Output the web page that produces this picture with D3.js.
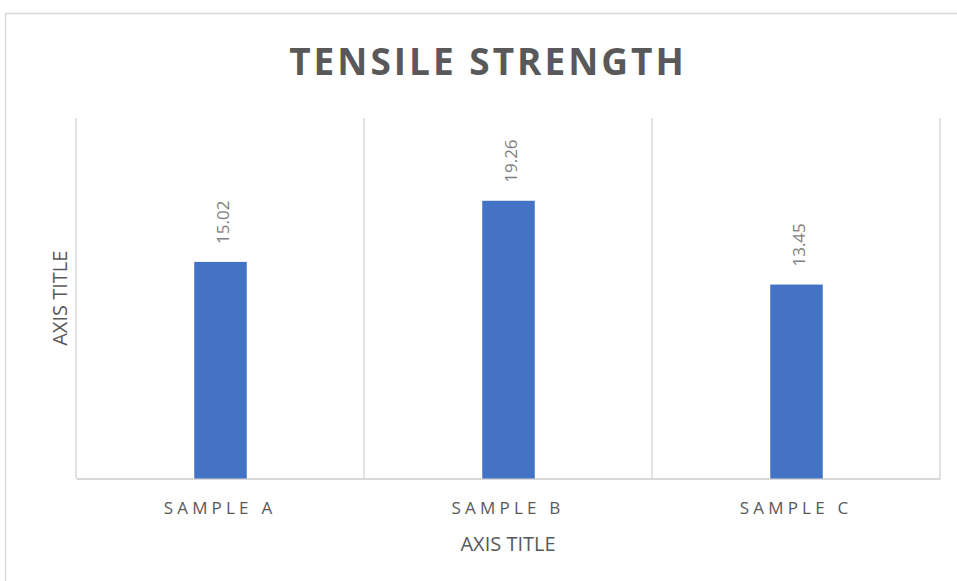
<!DOCTYPE html>
<html>
<head>
<meta charset="utf-8">
<script src="https://cdn.jsdelivr.net/npm/d3@7"></script>
<style>
  html, body { margin: 0; padding: 0; background: #fff; }
  svg { display: block; font-family: "Open Sans", "Noto Sans", sans-serif; }
</style>
</head>
<body>
<svg id="chart" width="957" height="581"></svg>
<script>
// Chart data
const categories = ["SAMPLE A", "SAMPLE B", "SAMPLE C"];
const strength = [15.02, 19.26, 13.45];
const chartTitle = "TENSILE STRENGTH";
const xAxisTitle = "AXIS TITLE";
const yAxisTitle = "AXIS TITLE";

const svg = d3.select("#chart");
const W = 957, H = 581;
const plot = { left: 76, right: 940, top: 118, bottom: 478.5 };

// Outer chart frame
svg.append("rect")
  .attr("x", 5.5).attr("y", 13.5)
  .attr("width", W + 10).attr("height", H + 10)
  .attr("fill", "#fff").attr("stroke", "#d9d9d9").attr("stroke-width", 1.5);

const x = d3.scaleBand()
  .domain(categories)
  .range([plot.left, plot.right])
  .paddingInner(0).paddingOuter(0);

const y = d3.scaleLinear()
  .domain([0, 25])
  .range([plot.bottom, plot.top]);

// Vertical category gridlines
const gridX = categories.map(c => x(c)).concat([x(categories[categories.length - 1]) + x.bandwidth()]);
svg.append("g").selectAll("line")
  .data(gridX)
  .join("line")
  .attr("x1", d => d).attr("x2", d => d)
  .attr("y1", plot.top).attr("y2", plot.bottom)
  .attr("stroke", "#d9d9d9").attr("stroke-width", 1.5);

// Category axis along the baseline
const xAxis = svg.append("g")
  .attr("transform", `translate(0,${plot.bottom})`)
  .call(d3.axisBottom(x).tickSize(0).tickPadding(0));
xAxis.select(".domain").attr("stroke", "#d9d9d9").attr("stroke-width", 2);
xAxis.selectAll(".tick text")
  .attr("dy", null)
  .attr("y", 35)
  .attr("font-family", "Open Sans, sans-serif")
  .attr("font-size", 17)
  .attr("letter-spacing", "4.2px")
  .attr("fill", "#595959");

// Bars
const barW = 52.5;
svg.append("g").selectAll("rect")
  .data(strength)
  .join("rect")
  .attr("x", (d, i) => x(categories[i]) + x.bandwidth() / 2 - barW / 2 + 0.5)
  .attr("y", d => y(d))
  .attr("width", barW)
  .attr("height", d => y(0) - y(d))
  .attr("fill", "#4472c4");

// Rotated value labels above bars
svg.append("g").selectAll("text")
  .data(strength)
  .join("text")
  .attr("transform", (d, i) => `translate(${x(categories[i]) + x.bandwidth() / 2 + 9},${y(d) - 18}) rotate(-90)`)
  .attr("text-anchor", "start")
  .attr("font-size", 17)
  .attr("fill", "#7f7f7f")
  .text(d => d.toFixed(2));

// Chart title
svg.append("text")
  .attr("x", (plot.left + plot.right) / 2 - 20)
  .attr("y", 75)
  .attr("text-anchor", "middle")
  .attr("font-size", 37)
  .attr("font-weight", 700)
  .attr("letter-spacing", "3px")
  .attr("fill", "#595959")
  .text(chartTitle);

// Axis titles
svg.append("text")
  .attr("x", (plot.left + plot.right) / 2)
  .attr("y", 551)
  .attr("text-anchor", "middle")
  .attr("font-size", 20)
  .attr("fill", "#595959")
  .text(xAxisTitle);

svg.append("text")
  .attr("transform", `translate(67,${(plot.top + plot.bottom) / 2}) rotate(-90)`)
  .attr("text-anchor", "middle")
  .attr("font-size", 20)
  .attr("fill", "#595959")
  .text(yAxisTitle);
</script>
</body>
</html>
